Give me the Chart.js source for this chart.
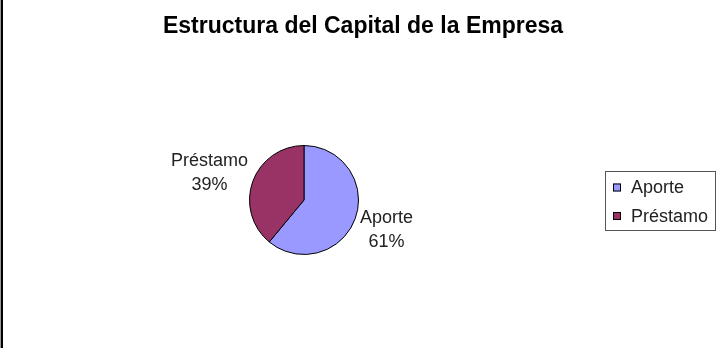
<!DOCTYPE html>
<html>
<head>
<meta charset="utf-8">
<script src="https://cdn.jsdelivr.net/npm/chart.js@4/dist/chart.umd.min.js"></script>
<style>
  body { margin: 0; background: #fff; }
  canvas { display: block; }
</style>
</head>
<body>
<canvas id="capital" width="718" height="348"></canvas>
<script>
const labels = ['Aporte', 'Préstamo'];
const values = [61, 39];
const colors = ['#9999FF', '#993366'];
const chartTitle = 'Estructura del Capital de la Empresa';

const FONT = '"Liberation Sans", Arial, sans-serif';

// etiquetas fuera del pastel, estilo Excel
const outsideLabels = {
    id: 'outsideLabels',
    afterDatasetsDraw(chart) {
        const ctx = chart.ctx;
        const meta = chart.getDatasetMeta(0);
        const total = values.reduce((a, b) => a + b, 0);
        ctx.save();
        ctx.font = '18px ' + FONT;
        ctx.fillStyle = '#222';
        ctx.textBaseline = 'middle';
        ctx.textAlign = 'center';
        meta.data.forEach((arc, i) => {
            const mid = (arc.startAngle + arc.endAngle) / 2;
            const r = arc.outerRadius + 5;
            const ax = arc.x + Math.cos(mid) * r;
            const ay = arc.y + Math.sin(mid) * r;
            const pct = Math.round(values[i] / total * 100) + '%';
            const lines = [labels[i], pct];
            const w = Math.max(...lines.map(t => ctx.measureText(t).width));
            const right = Math.cos(mid) >= 0;
            const cx = right ? ax + w / 2 : ax - w / 2;
            const cy = ay + (Math.sin(mid) >= 0 ? 10 : -7);
            ctx.fillText(lines[0], cx, cy - 12);
            ctx.fillText(lines[1], cx, cy + 12);
        });
        ctx.restore();
    }
};

// título, leyenda con recuadro y borde izquierdo
const frame = {
    id: 'frame',
    afterDraw(chart) {
        const ctx = chart.ctx;
        ctx.save();
        ctx.fillStyle = '#999';
        ctx.fillRect(0, 0, 1, chart.height);
        ctx.fillStyle = '#000';
        ctx.fillRect(1, 0, 2, chart.height);

        ctx.fillStyle = '#000';
        ctx.font = 'bold 23px ' + FONT;
        ctx.textAlign = 'center';
        ctx.textBaseline = 'alphabetic';
        ctx.fillText(chartTitle, 363, 33);

        ctx.strokeStyle = '#555';
        ctx.lineWidth = 1;
        ctx.strokeRect(605.5, 171.5, 110, 59);
        ctx.font = '18px ' + FONT;
        ctx.textBaseline = 'middle';
        ctx.textAlign = 'left';
        labels.forEach((lab, i) => {
            const y = 187.5 + i * 28.5;
            ctx.fillStyle = colors[i];
            ctx.fillRect(613, y - 4, 8, 8);
            ctx.strokeStyle = '#000';
            ctx.strokeRect(613.5, y - 3.5, 7, 7);
            ctx.fillStyle = '#222';
            ctx.fillText(lab, 631, y + 1);
        });
        ctx.restore();
    }
};

new Chart(document.getElementById('capital'), {
    type: 'pie',
    data: {
        labels: labels,
        datasets: [{
            data: values,
            backgroundColor: colors,
            borderColor: '#000',
            borderWidth: 1
        }]
    },
    options: {
        responsive: false,
        animation: false,
        layout: {
            padding: { left: 249, right: 359, top: 145, bottom: 93 }
        },
        plugins: {
            legend: { display: false },
            tooltip: { enabled: false },
            title: { display: false }
        }
    },
    plugins: [outsideLabels, frame]
});
</script>
</body>
</html>
